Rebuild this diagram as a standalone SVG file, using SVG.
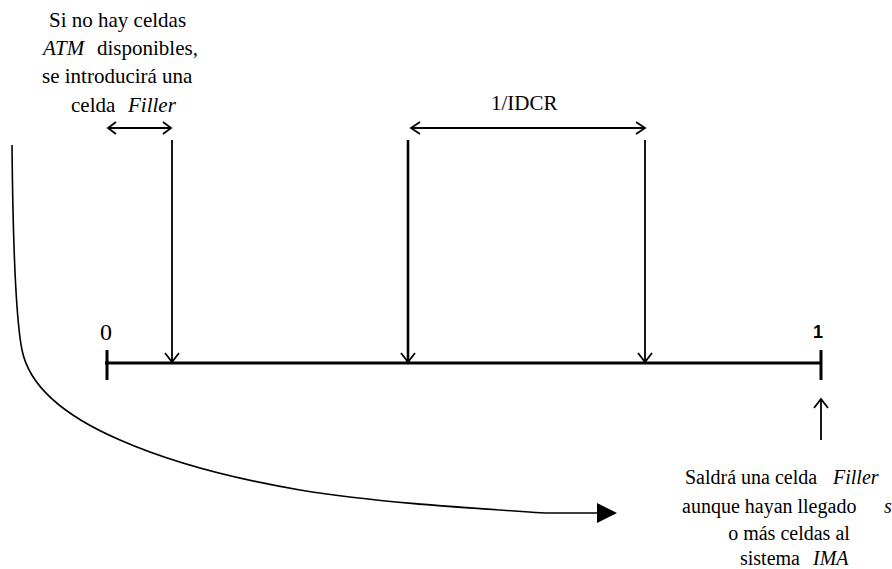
<svg xmlns="http://www.w3.org/2000/svg" width="892" height="569" viewBox="0 0 892 569">
<style>
.ln{stroke:#000;fill:none;stroke-linecap:butt}
.hd{stroke:#000;fill:none;stroke-width:1.8;stroke-linejoin:miter}
</style>
<rect width="892" height="569" fill="#fff"/>
<g id="timeline">
<line class="ln" x1="105" y1="363" x2="821" y2="363" stroke-width="3"/>
<line class="ln" x1="107" y1="350" x2="107" y2="380" stroke-width="3"/>
<line class="ln" x1="821" y1="350" x2="821" y2="380" stroke-width="3"/>
<text x="106" y="340" style="font-family:'Liberation Serif',serif;font-size:24px" text-anchor="middle">0</text>
<text x="818" y="338" style="font-family:'Liberation Sans',sans-serif;font-size:18px;font-weight:bold" text-anchor="middle">1</text>
</g>
<g id="note-top" style="font-family:'Liberation Serif',serif;font-size:21px">
<text style="font-family:'Liberation Serif',serif" x="49" y="27">Si no hay celdas</text>
<text style="font-family:'Liberation Serif',serif" y="55"><tspan x="43" font-style="italic">ATM</tspan><tspan x="97">disponibles,</tspan></text>
<text style="font-family:'Liberation Serif',serif" x="42" y="83">se introducirá una</text>
<text style="font-family:'Liberation Serif',serif" y="112"><tspan x="71">celda</tspan><tspan x="128" font-style="italic">Filler</tspan></text>
</g>
<g id="note-bottom" style="font-family:'Liberation Serif',serif;font-size:20px">
<text style="font-family:'Liberation Serif',serif" y="484"><tspan x="685">Saldrá una celda</tspan><tspan x="833" font-style="italic">Filler</tspan></text>
<text style="font-family:'Liberation Serif',serif" y="513"><tspan x="682">aunque hayan llegado</tspan><tspan x="884" font-style="italic">s</tspan></text>
<text style="font-family:'Liberation Serif',serif" x="789" y="540" text-anchor="middle">o más celdas al</text>
<text style="font-family:'Liberation Serif',serif" y="565"><tspan x="740">sistema</tspan><tspan x="813" font-style="italic">IMA</tspan></text>
</g>
<g id="label-idcr">
<text style="font-family:'Liberation Serif',serif;font-size:21px" x="491" y="110">1/IDCR</text>
</g>
<g id="connectors">
<line class="ln" x1="108" y1="128" x2="171" y2="128" stroke-width="1.8"/>
<polyline class="hd" points="116,122 108,128 116,134"/>
<polyline class="hd" points="163,122 171,128 163,134"/>
<line class="ln" x1="411" y1="128" x2="645" y2="128" stroke-width="1.8"/>
<polyline class="hd" points="420,122 411,128 420,134"/>
<polyline class="hd" points="636,122 645,128 636,134"/>
<line class="ln" x1="172" y1="140" x2="172" y2="362" stroke-width="1.8"/>
<polyline class="hd" points="165,353 172,362 179,353"/>
<line class="ln" x1="408" y1="140" x2="408" y2="362" stroke-width="2.6"/>
<polyline class="hd" points="401,353 408,362 415,353"/>
<line class="ln" x1="645" y1="140" x2="645" y2="362" stroke-width="1.8"/>
<polyline class="hd" points="638,353 645,362 652,353"/>
<line class="ln" x1="821" y1="399" x2="821" y2="440" stroke-width="1.8"/>
<polyline class="hd" points="814,408 821,399 828,408"/>
<path class="ln" stroke-width="1.6" d="M12,145 C13,250 16,320 22,350 C28,380 55,412 120,440 C170,462 230,478 300,490 C380,503 470,508 545,513 L598,513"/>
<polygon points="597,503 617,513 597,523" fill="#000"/>
</g>
</svg>
